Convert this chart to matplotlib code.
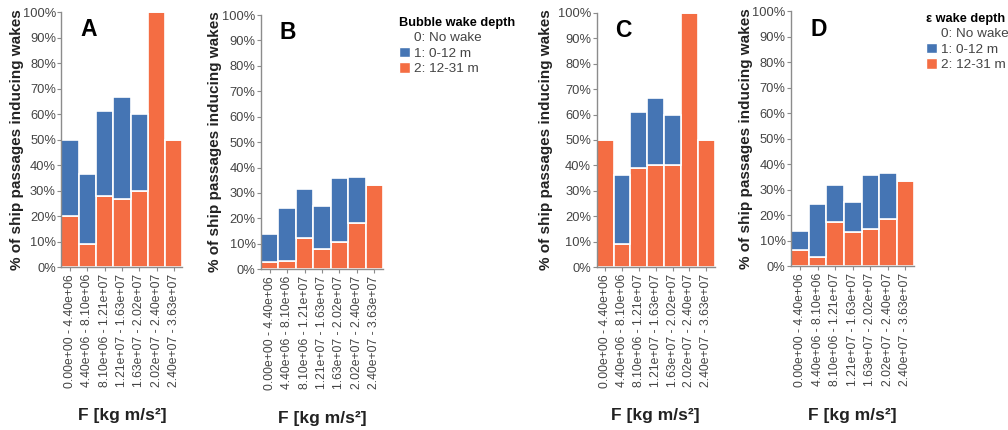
import matplotlib
matplotlib.use("Agg")
from matplotlib import pyplot as plt
from matplotlib.patches import Patch
import numpy as np

plt.rcParams['font.family'] = ['Liberation Sans', 'DejaVu Sans']

# F bins (x categories)
bins = ["0.00e+00 - 4.40e+06", "4.40e+06 - 8.10e+06", "8.10e+06 - 1.21e+07",
        "1.21e+07 - 1.63e+07", "1.63e+07 - 2.02e+07", "2.02e+07 - 2.40e+07",
        "2.40e+07 - 3.63e+07"]

# % of passages, depth class 2 (12-31 m) and class 1 (0-12 m), per panel
a_deep = [20.0, 9.1, 27.8, 26.7, 30.0, 100.0, 50.0]
a_shallow = [30.0, 27.3, 33.3, 40.0, 30.0, 0.0, 0.0]

b_deep = [3.0, 3.3, 12.1, 7.9, 10.5, 18.2, 33.3]
b_shallow = [10.7, 20.8, 19.6, 17.1, 25.2, 18.2, 0.0]

c_deep = [50.0, 9.1, 38.9, 40.0, 40.0, 100.0, 50.0]
c_shallow = [0.0, 27.3, 22.2, 26.7, 20.0, 0.0, 0.0]

d_deep = [6.3, 3.7, 17.4, 13.5, 14.4, 18.5, 33.3]
d_shallow = [7.6, 20.6, 14.4, 11.6, 21.3, 18.0, 0.0]

panels = [("A", a_deep, a_shallow), ("B", b_deep, b_shallow),
          ("C", c_deep, c_shallow), ("D", d_deep, d_shallow)]

legend_titles = {"B": "Bubble wake depth", "D": "\u03b5 wake depth"}
legend_x = {"B": 1.09, "D": 1.05}
legend_labels = ["0: No wake", "1: 0-12 m", "2: 12-31 m"]

blue = "#4575b4"
orange = "#f46d43"
grey = "#8c8c8c"
text_grey = "#444444"

# axes rectangles [left, bottom, width, height] in figure fraction
rects = [[0.061, 0.379, 0.120, 0.593],
         [0.259, 0.374, 0.121, 0.591],
         [0.592, 0.379, 0.117, 0.591],
         [0.785, 0.381, 0.122, 0.593]]
ylabel_x = [-0.31, -0.32, -0.37, -0.31]

fig = plt.figure(figsize=(10.08, 4.30), dpi=100)

for (name, deep, shallow), rect, lx in zip(panels, rects, ylabel_x):
    ax = fig.add_axes(rect)
    x = np.arange(len(bins))
    ax.bar(x, deep, width=1.0, color=orange, edgecolor="white", linewidth=1.2)
    ax.bar(x, shallow, bottom=deep, width=1.0, color=blue,
           edgecolor="white", linewidth=1.2)
    ax.set_xlim(-0.5, len(bins) - 0.5)
    ax.set_ylim(0, 100)
    ax.set_yticks(np.arange(0, 101, 10))
    ax.set_yticklabels([f"{v}%" for v in range(0, 101, 10)])
    ax.set_xticks(x)
    ax.set_xticklabels(bins, rotation=90)
    for s in ["top", "right"]:
        ax.spines[s].set_visible(False)
    for s in ["left", "bottom"]:
        ax.spines[s].set_color(grey)
        ax.spines[s].set_linewidth(1.0)
    ax.tick_params(axis="y", colors=grey, labelcolor=text_grey, labelsize=9.3,
                   length=3, pad=1)
    ax.tick_params(axis="x", colors=grey, labelcolor=text_grey, labelsize=8.7,
                   length=3, pad=2)
    ax.set_ylabel("% of ship passages inducing wakes", fontsize=11,
                  fontweight="bold", color="#222222")
    ax.yaxis.set_label_coords(lx, 0.5)
    ax.set_xlabel("F [kg m/s\u00b2]", fontsize=12.5, fontweight="bold",
                  color="#222222", labelpad=15)
    ax.text(0.155, 0.975, name, transform=ax.transAxes, fontsize=16.5,
            fontweight="bold", va="top", ha="left")

    if name in legend_titles:
        handles = [Patch(facecolor="none", edgecolor="none"),
                   Patch(facecolor=blue, edgecolor="white"),
                   Patch(facecolor=orange, edgecolor="white")]
        leg = ax.legend(handles, legend_labels, title=legend_titles[name],
                        loc="upper left", bbox_to_anchor=(legend_x[name], 1.015),
                        frameon=False, fontsize=9.7, handlelength=0.8,
                        handleheight=0.8, handletextpad=0.3,
                        labelspacing=0.2, borderaxespad=0)
        leg.get_title().set_fontweight("bold")
        leg.get_title().set_fontsize(9.2)
        leg._legend_box.align = "left"
        for t in leg.get_texts():
            t.set_color(text_grey)

fig.savefig("out.png", dpi=100)
